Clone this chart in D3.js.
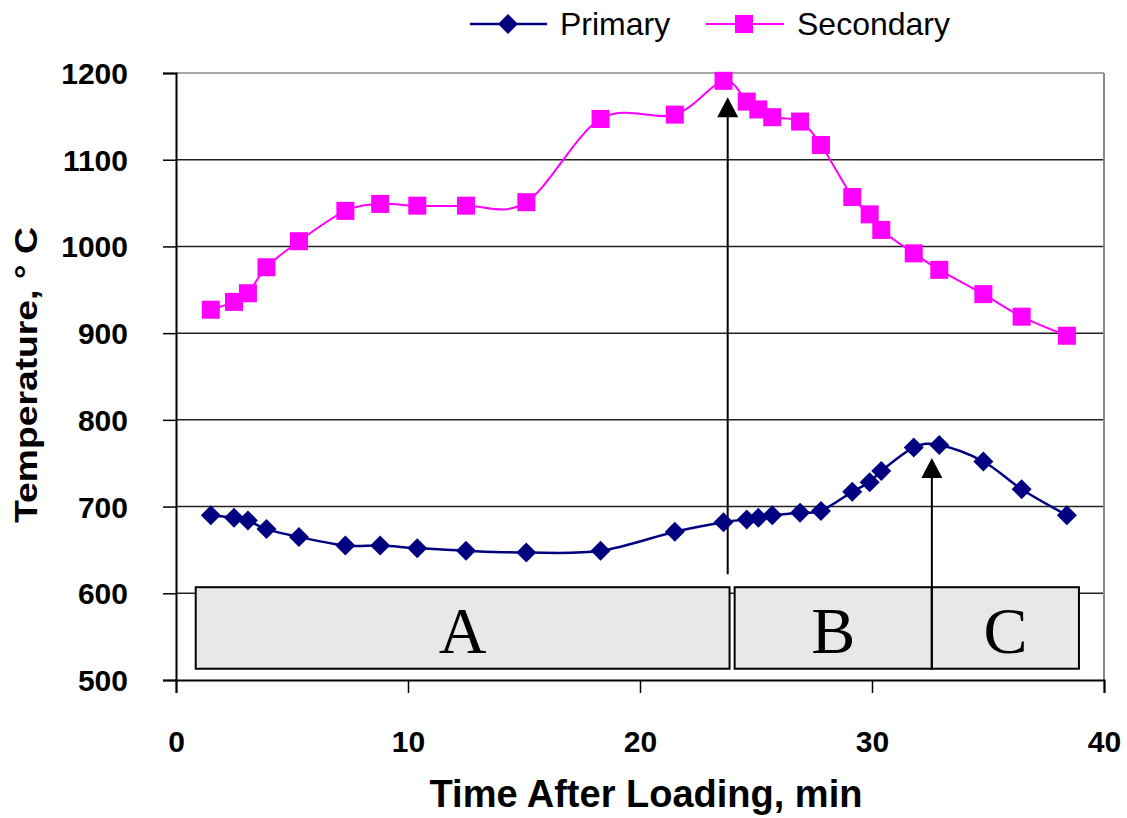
<!DOCTYPE html>
<html>
<head>
<meta charset="utf-8">
<script src="https://cdn.jsdelivr.net/npm/d3@7"></script>
<style>
  html, body { margin: 0; padding: 0; background: #fff; }
  svg { display: block; }
</style>
</head>
<body>
<svg id="chart" width="1127" height="818"></svg>
<script>
// ---- data ----
const times = [1.5, 2.5, 3.1, 3.9, 5.3, 7.3, 8.8, 10.4, 12.5, 15.1, 18.3, 21.5, 23.6, 24.6, 25.1, 25.7, 26.9, 27.8, 29.15, 29.9, 30.4, 31.8, 32.9, 34.8, 36.45, 38.4];
const primary = [690, 687, 684, 674, 665, 655, 655, 652, 649, 647, 649, 671, 682, 685, 687, 690, 693, 695, 717, 728, 741, 768, 771, 752, 720, 690];
const secondary = [927, 936, 946, 976, 1006, 1041, 1049, 1047, 1047, 1051, 1147, 1152, 1191, 1167, 1158, 1149, 1144, 1117, 1057, 1037, 1019, 992, 973, 945, 919, 897];
const seriesNames = ["Primary", "Secondary"];
const xTicks = [0, 10, 20, 30, 40];
const yTicks = [500, 600, 700, 800, 900, 1000, 1100, 1200];
const phaseLabels = ["A", "B", "C"];
const phaseStart = [0.85, 24.08, 32.58];
const phaseEnd = [23.86, 32.58, 38.92];
const phaseLow = 513;
const phaseHigh = 607;
const arrowTime = [23.78, 32.58];
const arrowFrom = [622, 513];
const arrowTo = [1172, 756];

// ---- layout ----
const svg = d3.select("#chart");
const x = d3.scaleLinear().domain([0, 40]).range([176, 1104]);
const y = d3.scaleLinear().domain([500, 1200]).range([680, 73]);
const navy = "#000080", pink = "#ff00ff";
const sans = "Liberation Sans, Arial, sans-serif";

// gridlines
svg.append("g").selectAll("line").data(yTicks.filter(v => v > 500)).join("line")
  .attr("x1", x(0)).attr("x2", x(40))
  .attr("y1", d => y(d)).attr("y2", d => y(d))
  .attr("stroke", d => d === 1200 ? "#888" : "#222").attr("stroke-width", 1.5);
// right border
svg.append("line").attr("x1", x(40)).attr("x2", x(40)).attr("y1", y(1200)).attr("y2", y(500))
  .attr("stroke", "#888").attr("stroke-width", 2);

// axes
const xAxis = svg.append("g").attr("transform", `translate(0,${y(500)})`)
  .call(d3.axisBottom(x).tickValues(xTicks).tickSize(13).tickFormat(d3.format("d")));
const yAxis = svg.append("g").attr("transform", `translate(${x(0)},0)`)
  .call(d3.axisLeft(y).tickValues(yTicks).tickSize(13).tickFormat(d3.format("d")));
[xAxis, yAxis].forEach(g => {
  g.select(".domain").attr("stroke", "#000").attr("stroke-width", 2);
  g.selectAll(".tick line").attr("stroke", "#000").attr("stroke-width", 1.5);
  g.selectAll(".tick text").attr("font-family", sans)
    .attr("font-weight", "bold").attr("font-size", 30).attr("fill", "#000");
});
xAxis.selectAll(".tick text").attr("dy", 0).attr("y", 72);
yAxis.selectAll(".tick text").attr("x", -48).attr("dy", "0.35em");

// axis titles
svg.append("text").attr("x", 646).attr("y", 807).attr("text-anchor", "middle")
  .attr("font-family", sans).attr("font-weight", "bold")
  .attr("font-size", 38).text("Time After Loading, min");
svg.append("text").attr("transform", `translate(37,375) rotate(-90)`).attr("text-anchor", "middle")
  .attr("font-family", sans).attr("font-weight", "bold")
  .attr("font-size", 31).attr("textLength", 296).attr("lengthAdjust", "spacingAndGlyphs")
  .text("Temperature, \u00b0 C");

// phase boxes
const phases = phaseLabels.map((l, i) => ({ l, s: phaseStart[i], e: phaseEnd[i] }));
const pg = svg.append("g");
pg.selectAll("rect").data(phases).join("rect")
  .attr("x", d => x(d.s)).attr("width", d => x(d.e) - x(d.s))
  .attr("y", y(phaseHigh)).attr("height", y(phaseLow) - y(phaseHigh))
  .attr("fill", "#e8e8e8").attr("stroke", "#000").attr("stroke-width", 2);
pg.selectAll("text").data(phases).join("text")
  .attr("x", d => (x(d.s) + x(d.e)) / 2)
  .attr("y", 653).attr("text-anchor", "middle")
  .attr("font-family", "Liberation Serif, Times New Roman, serif")
  .attr("font-size", 66).text(d => d.l);

// arrows
const arrows = arrowTime.map((t, i) => ({ t, a: arrowFrom[i], b: arrowTo[i] }));
const ag = svg.append("g");
arrows.forEach(d => {
  const xx = x(d.t), y0 = y(d.a), y1 = y(d.b);
  ag.append("line").attr("x1", xx).attr("x2", xx).attr("y1", y0).attr("y2", y1 + 18)
    .attr("stroke", "#000").attr("stroke-width", 2);
  ag.append("path").attr("d", `M${xx},${y1} L${xx - 10.5},${y1 + 20} L${xx + 10.5},${y1 + 20} Z`)
    .attr("fill", "#000");
});

// series
const curve = d3.curveCatmullRom.alpha(0);
const line = d3.line().x(d => x(d[0])).y(d => y(d[1])).curve(curve);
const pData = times.map((t, i) => [t, primary[i]]);
const sData = times.map((t, i) => [t, secondary[i]]);
svg.append("path").attr("d", line(pData)).attr("fill", "none").attr("stroke", navy).attr("stroke-width", 2.5);
svg.append("path").attr("d", line(sData)).attr("fill", "none").attr("stroke", pink).attr("stroke-width", 2);

function diamond(g, cx, cy, r) {
  g.append("path").attr("d", `M${cx},${cy - r} L${cx + r},${cy} L${cx},${cy + r} L${cx - r},${cy} Z`).attr("fill", navy);
}
function square(g, cx, cy, s) {
  g.append("rect").attr("x", cx - s / 2).attr("y", cy - s / 2).attr("width", s).attr("height", s).attr("fill", pink);
}
const mg = svg.append("g");
pData.forEach(d => diamond(mg, x(d[0]), y(d[1]), 10));
sData.forEach(d => square(mg, x(d[0]), y(d[1]), 18));

// legend
const lg = svg.append("g").attr("font-family", sans).attr("font-size", 32);
lg.append("line").attr("x1", 470).attr("x2", 547).attr("y1", 24).attr("y2", 24).attr("stroke", navy).attr("stroke-width", 2.5);
diamond(lg, 508, 24, 10);
lg.append("text").attr("x", 560).attr("y", 35).text(seriesNames[0]);
lg.append("line").attr("x1", 706).attr("x2", 784).attr("y1", 24).attr("y2", 24).attr("stroke", pink).attr("stroke-width", 2);
square(lg, 744, 24, 18);
lg.append("text").attr("x", 797).attr("y", 35).text(seriesNames[1]);
</script>
</body>
</html>
